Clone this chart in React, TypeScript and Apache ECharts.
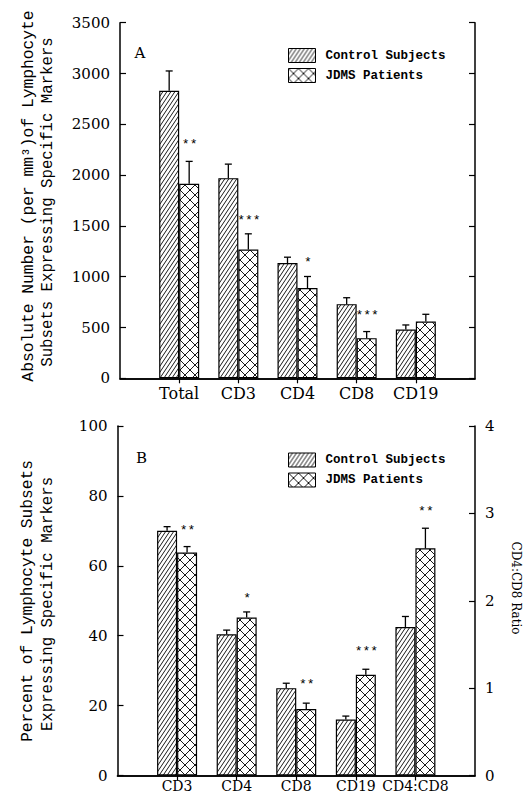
import React, { useEffect, useRef } from 'react';
import * as echarts from 'echarts';

// ---------- Panel A: absolute numbers ----------
const topCategories = ['', 'Total', 'CD3', 'CD4', 'CD8', 'CD19', ''];
const topControl = [null, 2830, 1970, 1135, 730, 480, null];
const topControlErr = [null, 195, 138, 57, 63, 45, null];
const topJdms = [null, 1915, 1268, 888, 395, 558, null];
const topJdmsErr = [null, 220, 154, 114, 65, 72, null];
const topStars = ['', '**', '***', '*', '***', '', ''];
const topStarLevel = [null, 2330, 1578, 1164, 640, null, null];
const topAxisMin = 0;
const topAxisMax = 3500;
const topAxisStep = 500;

// ---------- Panel B: percentages and CD4:CD8 ratio ----------
const botCategories = ['', 'CD3', 'CD4', 'CD8', 'CD19', 'CD4:CD8', ''];
const botControlPct = [null, 70, 40.4, 25, 16, null, null];
const botControlPctErr = [null, 1.2, 1.2, 1.4, 1.0, null, null];
const botJdmsPct = [null, 63.8, 45.2, 19, 28.8, null, null];
const botJdmsPctErr = [null, 1.7, 1.6, 1.7, 1.6, null, null];
const ratioControl = [null, null, null, null, null, 1.7, null];
const ratioControlErr = [null, null, null, null, null, 0.12, null];
const ratioJdms = [null, null, null, null, null, 2.6, null];
const ratioJdmsErr = [null, null, null, null, null, 0.23, null];
const botStars = ['', '**', '*', '**', '***', '**', ''];
const botStarLevel = [null, 70.9, 51.4, 26.7, 36.1, null, null];
const ratioStarLevel = [null, null, null, null, null, 3.05, null];
const pctAxisMax = 100;
const pctAxisStep = 20;
const ratioAxisMax = 4;
const ratioAxisStep = 1;

const legendNames = ['Control Subjects', 'JDMS Patients'];

const MONO = '"Liberation Mono", "DejaVu Sans Mono", monospace';
const SERIF = '"DejaVu Serif", "Liberation Serif", serif';

function svgPattern(w: number, h: number, d: string, sw: number) {
  const svg = `<svg xmlns="http://www.w3.org/2000/svg" width="${w}" height="${h}"><rect width="${w}" height="${h}" fill="#fff"/><path d="${d}" stroke="#000" stroke-width="${sw}" fill="none"/></svg>`;
  return {
    image: 'data:image/svg+xml;charset=utf-8,' + encodeURIComponent(svg),
    repeat: 'repeat',
    imageWidth: w,
    imageHeight: h,
  };
}

function hatchPattern() {
  const w = 4, h = 6;
  let d = '';
  for (let k = -1; k <= 1; k++) {
    const a = k * w;
    d += `M${a - 0.667},${h + 1}L${a + w + 0.667},-1`;
  }
  return svgPattern(w, h, d, 0.9);
}

function crossPattern() {
  const s = 10;
  const d =
    `M-2,-2L${s + 2},${s + 2}` +
    `M${s / 2 + 2},-2L${s + 2},${s / 2 - 2}` +
    `M-2,${s / 2 + 2}L${s / 2 - 2},${s + 2}` +
    `M${s + 2},-2L-2,${s + 2}` +
    `M2,-2L-2,2` +
    `M${s + 2},${s - 2}L${s - 2},${s + 2}`;
  return svgPattern(s, s, d, 0.9);
}

const errData = (vals: (number | null)[], errs: (number | null)[]) =>
  vals.map((v, i) => (v == null ? null : [i, v, errs[i] as number])).filter((x) => x != null);

function errorSeries(vals: (number | null)[], errs: (number | null)[], offset: number, xi: number, yi: number) {
  return {
    type: 'custom',
    xAxisIndex: xi,
    yAxisIndex: yi,
    z: 5,
    silent: true,
    clip: false,
    data: errData(vals, errs),
    encode: { x: 0, y: 1 },
    renderItem: (_params: any, api: any) => {
      const i = api.value(0);
      const v = api.value(1);
      const e = api.value(2);
      const p0 = api.coord([i, v]);
      const p1 = api.coord([i, v + e]);
      const x = p0[0] + offset;
      const st = { stroke: '#000', lineWidth: 1.3 };
      return {
        type: 'group',
        children: [
          { type: 'line', shape: { x1: x, y1: p0[1], x2: x, y2: p1[1] }, style: st },
          { type: 'line', shape: { x1: x - 3.5, y1: p1[1], x2: x + 3.5, y2: p1[1] }, style: st },
        ],
      };
    },
  };
}

function starSeries(labels: string[], levels: (number | null)[], xi: number, yi: number) {
  return {
    type: 'custom',
    xAxisIndex: xi,
    yAxisIndex: yi,
    z: 6,
    silent: true,
    clip: false,
    data: levels.map((v, i) => (v == null ? null : [i, v])).filter((x) => x != null),
    encode: { x: 0, y: 1 },
    renderItem: (_params: any, api: any) => {
      const i = api.value(0);
      const p = api.coord([i, api.value(1)]);
      return {
        type: 'text',
        x: p[0] + 10.5,
        y: p[1] + 2.5,
        style: {
          text: labels[i],
          fontFamily: MONO,
          fontSize: 13,
          fill: '#000',
          align: 'center',
          verticalAlign: 'middle',
        },
      };
    },
  };
}

export default function App() {
  const ref = useRef<HTMLDivElement>(null);

  useEffect(() => {
    if (!ref.current) return;
    const chart = echarts.init(ref.current, undefined, { renderer: 'svg' });
    const hatch = hatchPattern();
    const cross = crossPattern();
    const axisLine = { show: true, lineStyle: { color: '#000', width: 1.5 } };
    const tickIn = { show: true, inside: true, length: 6, lineStyle: { color: '#000', width: 1.2 } };
    const catTickIn = {
      show: true,
      inside: true,
      length: 5,
      interval: (idx: number) => idx > 0 && idx < 6,
      lineStyle: { color: '#000', width: 1.2 },
    };
    const catLabelTop = { show: true, interval: 0, margin: 7, fontFamily: SERIF, fontSize: 16, color: '#000' };
    const catLabelBot = { show: true, interval: 0, margin: 3, fontFamily: SERIF, fontSize: 14, color: '#000' };
    const valLabel = { fontFamily: SERIF, fontSize: 15, color: '#000', margin: 10, formatter: (v: number) => String(v) };

    const barStyle = (pattern: any) => ({ color: pattern, borderColor: '#000', borderWidth: 1.2 });
    const bar = (name: string, data: any[], pattern: any, xi: number, yi: number) => ({
      type: 'bar',
      name,
      xAxisIndex: xi,
      yAxisIndex: yi,
      data,
      barWidth: 20,
      barGap: '0%',
      silent: true,
      itemStyle: barStyle(pattern),
    });

    const legendBase = {
      data: legendNames,
      orient: 'vertical',
      left: 288,
      padding: 0,
      itemWidth: 27,
      itemHeight: 14,
      itemGap: 5,
      icon: 'rect',
      selectedMode: false,
      itemStyle: { borderColor: '#000', borderWidth: 1 },
      textStyle: { fontFamily: MONO, fontWeight: 'bold', fontSize: 12.5, color: '#000', padding: [0, 0, 0, 5] },
    };

    const titleStyle = (text: string, size: number, family: string) => ({
      text,
      fontFamily: family,
      fontSize: size,
      fill: '#000',
      align: 'center',
      verticalAlign: 'middle',
    });

    chart.setOption({
      animation: false,
      backgroundColor: '#fff',
      grid: [
        { left: 120, width: 355, top: 22.7, height: 355.6, outerBoundsMode: 'none', containLabel: false },
        { left: 117.5, width: 357.5, top: 426, height: 349.5, outerBoundsMode: 'none', containLabel: false },
      ],
      xAxis: [
        { gridIndex: 0, type: 'category', position: 'bottom', data: topCategories, boundaryGap: false, axisLine, axisTick: { show: false }, axisLabel: catLabelTop, splitLine: { show: false } },
        { gridIndex: 0, type: 'category', position: 'top', data: topCategories, boundaryGap: false, axisLine, axisTick: catTickIn, axisLabel: { show: false }, splitLine: { show: false } },
        { gridIndex: 1, type: 'category', position: 'bottom', data: botCategories, boundaryGap: false, axisLine, axisTick: { show: false }, axisLabel: catLabelBot, splitLine: { show: false } },
        { gridIndex: 1, type: 'category', position: 'top', data: botCategories, boundaryGap: false, axisLine, axisTick: catTickIn, axisLabel: { show: false }, splitLine: { show: false } },
        { gridIndex: 1, type: 'category', position: 'bottom', data: botCategories, boundaryGap: false, show: false },
      ],
      yAxis: [
        { gridIndex: 0, type: 'value', position: 'left', min: topAxisMin, max: topAxisMax, interval: topAxisStep, axisLine, axisTick: tickIn, axisLabel: valLabel, splitLine: { show: false } },
        { gridIndex: 0, type: 'value', position: 'right', min: topAxisMin, max: topAxisMax, interval: topAxisStep, axisLine, axisTick: tickIn, axisLabel: { show: false }, splitLine: { show: false } },
        { gridIndex: 1, type: 'value', position: 'left', min: 0, max: pctAxisMax, interval: pctAxisStep, axisLine, axisTick: tickIn, axisLabel: valLabel, splitLine: { show: false } },
        { gridIndex: 1, type: 'value', position: 'right', min: 0, max: ratioAxisMax, interval: ratioAxisStep, axisLine, axisTick: tickIn, axisLabel: valLabel, splitLine: { show: false } },
      ],
      legend: [
        { ...legendBase, top: 48 },
        { ...legendBase, top: 452.5 },
      ],
      graphic: [
        { type: 'text', x: 140, y: 53, style: titleStyle('A', 15, SERIF) },
        { type: 'text', x: 141.5, y: 458, style: titleStyle('B', 15, SERIF) },
        { type: 'text', x: 28, y: 196, rotation: Math.PI / 2, style: titleStyle('Absolute Number (per mm³)of Lymphocyte', 16.3, MONO) },
        { type: 'text', x: 48, y: 202, rotation: Math.PI / 2, style: titleStyle('Subsets Expressing Specific Markers', 15.7, MONO) },
        { type: 'text', x: 28, y: 601, rotation: Math.PI / 2, style: titleStyle('Percent of Lymphocyte Subsets', 16.2, MONO) },
        { type: 'text', x: 48, y: 604, rotation: Math.PI / 2, style: titleStyle('Expressing Specific Markers', 15.7, MONO) },
        { type: 'text', x: 516, y: 588, rotation: -Math.PI / 2, style: titleStyle('CD4:CD8 Ratio', 12, SERIF) },
      ],
      series: [
        bar(legendNames[0], topControl, hatch, 0, 0),
        bar(legendNames[1], topJdms, cross, 0, 0),
        bar(legendNames[0], botControlPct, hatch, 2, 2),
        bar(legendNames[1], botJdmsPct, cross, 2, 2),
        bar(legendNames[0], ratioControl, hatch, 4, 3),
        bar(legendNames[1], ratioJdms, cross, 4, 3),
        errorSeries(topControl, topControlErr, -10, 0, 0),
        errorSeries(topJdms, topJdmsErr, 10, 0, 0),
        errorSeries(botControlPct, botControlPctErr, -10, 2, 2),
        errorSeries(botJdmsPct, botJdmsPctErr, 10, 2, 2),
        errorSeries(ratioControl, ratioControlErr, -10, 4, 3),
        errorSeries(ratioJdms, ratioJdmsErr, 10, 4, 3),
        starSeries(topStars, topStarLevel, 0, 0),
        starSeries(botStars, botStarLevel, 2, 2),
        starSeries(botStars, ratioStarLevel, 4, 3),
      ],
    });
    return () => chart.dispose();
  }, []);

  return (
    <div
      ref={ref}
      style={{ position: 'fixed', left: 0, top: 0, width: 527, height: 795, background: '#fff' }}
    />
  );
}
